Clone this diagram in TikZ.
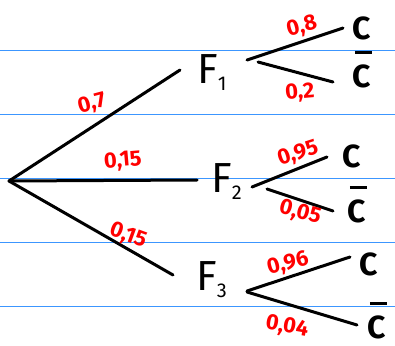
\documentclass[tikz,border=0pt]{standalone}
\usepackage{fontspec}
\setmainfont{Fira Sans}
\usepackage{tikz}

\definecolor{ruled}{RGB}{60,150,255}
\newcommand{\idx}[1]{\raisebox{-7pt}{\fontsize{20}{20}\selectfont #1}}
\newcommand{\notC}{\makebox[0pt][l]{\hspace{0.08em}\raisebox{1.02em}{\rule{0.55em}{0.11em}}}C}

\begin{document}
\begin{tikzpicture}[
    x=1pt, y=-1pt,
    every node/.style={inner sep=0pt, anchor=base west},
    event/.style={font=\fontsize{42}{42}\selectfont},
    outcome/.style={font=\bfseries\fontsize{32}{32}\selectfont},
    prob/.style={text=red, anchor=center, font=\bfseries\fontsize{22}{22}\selectfont},
    branch/.style={line width=3pt, line cap=round},
    ruling/.style={draw=ruled, line width=0.8pt}
]
\useasboundingbox (0,0) rectangle (395,345);

% ruled paper
\foreach \y in {50,114,178,242,306}
    \draw[ruling] (0,\y) -- (395,\y);

% first level
\coordinate (O) at (9,181);
\node[event] (F1) at (197,83) {F\idx{1}};
\node[event] (F2) at (211,192) {F\idx{2}};
\node[event] (F3) at (196,290) {F\idx{3}};

% second level
\node[outcome] (C1) at (352,40) {C};
\node[outcome] (N1) at (352,87) {\notC};
\node[outcome] (C2) at (342,167) {C};
\node[outcome] (N2) at (347,222) {\notC};
\node[outcome] (C3) at (359,275) {C};
\node[outcome] (N3) at (367,338) {\notC};

\draw[branch] (O) -- ([shift={(-17,-13)}]F1.base west);
\draw[branch] (O) -- ([shift={(-14,-12)}]F2.base west);
\draw[branch] (O) -- ([shift={(-23,-15)}]F3.base west);

\draw[branch] ([shift={(50,-23)}]F1.base west) -- ([shift={(-9,-12)}]C1.base west);
\draw[branch] ([shift={(61,-21)}]F1.base west) -- ([shift={(-19,-5)}]N1.base west);
\draw[branch] ([shift={(41,-5)}]F2.base west) -- ([shift={(-15,-10)}]C2.base west);
\draw[branch] ([shift={(56,-3)}]F2.base west) -- ([shift={(-14,-11)}]N2.base west);
\draw[branch] ([shift={(51,1)}]F3.base west) -- ([shift={(-9,-18)}]C3.base west);
\draw[branch] ([shift={(51,2)}]F3.base west) -- ([shift={(-10,-13)}]N3.base west);

% probabilities
\node[prob, rotate=15] (p1) at (92,104) {0,7};
\node[prob, rotate=5] (p2) at (123,161) {0,15};
\node[prob, rotate=-20] (p3) at (128,236) {0,15};
\node[prob, rotate=15] (p11) at (302,27) {0,8};
\node[prob, rotate=5] (p12) at (300,93) {0,2};
\node[prob, rotate=18] (p21) at (298,154) {0,95};
\node[prob, rotate=-15] (p22) at (300,213) {0,05};
\node[prob, rotate=15] (p31) at (288,264) {0,96};
\node[prob, rotate=-10] (p32) at (287,327) {0,04};
\end{tikzpicture}
\end{document}
